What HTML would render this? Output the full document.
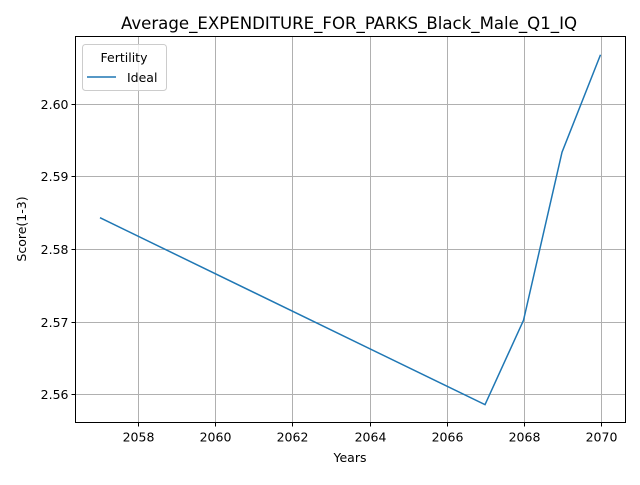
<!DOCTYPE html>
<html><head><meta charset="utf-8"><style>
body{margin:0;background:#fff;font-family:"Liberation Sans","DejaVu Sans",sans-serif}
svg text{font-family:"DejaVu Sans","Liberation Sans",sans-serif}
</style></head><body>
<svg width="640" height="480" xmlns="http://www.w3.org/2000/svg">
<rect width="640" height="480" fill="#fff"/>
<g id="grid"></g>
<g id="ticks"></g>
<path id="line" fill="none" stroke="#1f77b4" stroke-width="1.5"/>
<rect x="75.5" y="36.5" width="550" height="386" fill="none" stroke="#000" stroke-width="1"/>
<text x="349" y="29" font-size="16.6" text-anchor="middle">Average_EXPENDITURE_FOR_PARKS_Black_Male_Q1_IQ</text>
<text x="350" y="462" font-size="12.5" text-anchor="middle">Years</text>
<text x="26" y="229" font-size="12.5" text-anchor="middle" transform="rotate(-90 26 229)">Score(1-3)</text>
<g>
<rect x="82.5" y="44.5" width="84" height="46" rx="3" fill="#fff" fill-opacity="0.8" stroke="#ccc"/>
<text x="124" y="62" font-size="12.5" text-anchor="middle">Fertility</text>
<line x1="87" y1="77" x2="116" y2="77" stroke="#1f77b4" stroke-width="1.5"/>
<text x="127" y="82" font-size="12.5">Ideal</text>
</g>
</svg>
<script>
const years=[2057,2067,2068,2069,2070];
const values=[2.5843,2.5586,2.5702,2.5933,2.6067];
const xTicks=[2058,2060,2062,2064,2066,2068,2070];
const yTicks=[2.56,2.57,2.58,2.59,2.60];
const L=75.5,R=625.5,T=36.5,B=422.5;
const x0=2056.364,x1=2070.649,y0=2.55615,y1=2.60921;
const sx=v=>L+(v-x0)/(x1-x0)*(R-L);
const sy=v=>B-(v-y0)/(y1-y0)*(B-T);
const NS="http://www.w3.org/2000/svg";
const g=document.getElementById('grid'),tk=document.getElementById('ticks');
function mk(p,tag,a){const e=document.createElementNS(NS,tag);for(const k in a)e.setAttribute(k,a[k]);p.appendChild(e);return e;}
xTicks.forEach(v=>{const x=Math.round(sx(v))+0.5;
const l=mk(g,'line',{x1:x,x2:x,y1:T,y2:B,stroke:'#b0b0b0','stroke-width':1});


mk(tk,'line',{x1:x,x2:x,y1:B,y2:B+4,stroke:'#000'});
const t=mk(tk,'text',{x:x,y:B+19,'font-size':12.5,'text-anchor':'middle'});t.textContent=v;

});
yTicks.forEach(v=>{const y=Math.round(sy(v))+0.5;
const l=mk(g,'line',{x1:L,x2:R,y1:y,y2:y,stroke:'#b0b0b0','stroke-width':1});


mk(tk,'line',{x1:L-4,x2:L,y1:y,y2:y,stroke:'#000'});
const t=mk(tk,'text',{x:L-7,y:y+4.5,'font-size':12.5,'text-anchor':'end'});t.textContent=v.toFixed(2);

});
document.getElementById('line').setAttribute('d',years.map((yr,i)=>(i?'L':'M')+sx(yr)+' '+sy(values[i])).join(' '));
</script>
</body></html>
